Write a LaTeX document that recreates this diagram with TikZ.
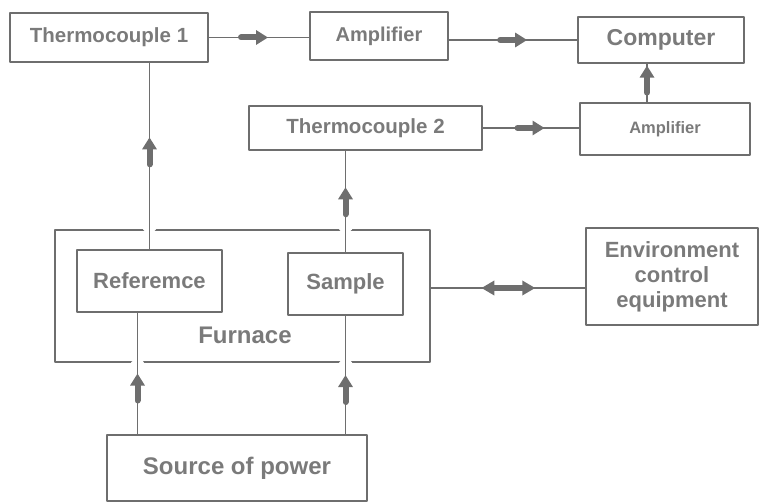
\documentclass[tikz,border=0pt]{standalone}
\usepackage{fontspec}
\setmainfont{Liberation Sans}
\usetikzlibrary{arrows.meta,calc,positioning,decorations.markings}

\definecolor{inkgray}{HTML}{6E6E6E}
\definecolor{txtgray}{HTML}{7A7A7A}

\tikzset{
  box/.style={draw=inkgray, line width=1.3pt, inner sep=0pt, align=center,
              text=txtgray, font=\bfseries\fontsize{22}{25}\selectfont},
  link/.style={draw=inkgray, line width=1.2pt},
  flow/.style={link, postaction={decorate},
    decoration={markings, mark=at position #1 with
      {\draw[inkgray, line width=6pt, -{Triangle[length=12pt,width=14pt]}] (-27,0) -- (0,0);}}},
  flow/.default=0.5,
  flowboth/.style={link, postaction={decorate},
    decoration={markings, mark=at position #1 with
      {\draw[inkgray, line width=6pt, {Triangle[length=13pt,width=14pt]}-{Triangle[length=13pt,width=14pt]}] (-27,0) -- (27,0);}}},
}

\begin{document}
\begin{tikzpicture}[x=1pt, y=-1pt, line cap=round, line join=round]

\useasboundingbox (0,0) rectangle (762,502);

% ---------------------------------------------------------
% Signal chain (top rows)
% ---------------------------------------------------------
\node[box, minimum width=198, minimum height=49,
      font=\bfseries\fontsize{20.5}{24}\selectfont] (tc1) at (109,37.5) {Thermocouple 1};
\node[box, minimum width=138, minimum height=48,
      font=\bfseries\fontsize{20}{24}\selectfont] (amp1) at (379,36) {Amplifier};
\node[box, minimum width=166, minimum height=46,
      font=\bfseries\fontsize{23}{26}\selectfont] (pc) at (661,40) {Computer};
\node[box, minimum width=233, minimum height=44,
      font=\bfseries\fontsize{20.5}{24}\selectfont] (tc2) at (365.5,128) {Thermocouple 2};
\node[box, minimum width=170, minimum height=52,
      font=\bfseries\fontsize{16.5}{20}\selectfont] (amp2) at (665,129) {Amplifier};

% ---------------------------------------------------------
% Furnace with reference and sample
% ---------------------------------------------------------
\node[box, minimum width=375, minimum height=132] (furnace) at (242.5,296) {};
\node[box, draw=none, font=\bfseries\fontsize{24}{28}\selectfont] (furnacetxt) at (245,335) {Furnace};
\node[box, minimum width=145, minimum height=62] (ref) at (149.5,281) {Referemce};
\node[box, minimum width=115, minimum height=62] (sample) at (345.5,284) {Sample};

% ---------------------------------------------------------
% Environment and power
% ---------------------------------------------------------
\node[box, minimum width=172, minimum height=97] (env) at (672,276.5)
     {Environment\\control\\equipment};
\node[box, minimum width=260, minimum height=66,
      font=\bfseries\fontsize{24}{28}\selectfont] (src) at (237,468) {Source of power};

\coordinate (refin) at ([xshift=-12]ref.south);
\coordinate (pcin)  at ([xshift=-18]amp2.north);
\coordinate (envin) at (586,288);

% breaks in the furnace wall where the leads pass
\foreach \p in {ref.north |- furnace.north, sample.north |- furnace.north,
                refin |- furnace.south, sample.south |- furnace.south}
  \draw[white, line width=3pt] ($(\p)+(-5,0)$) -- ($(\p)+(5,0)$);

% ---------------------------------------------------------
% Connectors
% ---------------------------------------------------------
\draw[flow=0.59] (tc1.east) -- (tc1.east -| amp1.west);
\draw[flow=0.61] (amp1.east |- pc.west) -- (pc.west);
\draw[flow=0.64] (tc2.east) -- (tc2.east -| amp2.west);
\draw[flow=0.95] (pcin) -- (pcin |- pc.south);

\draw[flow=0.6]  (ref.north) -- (ref.north |- tc1.south);
\draw[flow=0.64] (sample.north) -- (sample.north |- tc2.south);
\draw[flow=0.5]  (refin |- src.north) -- (refin);
\draw[flow=0.5]  (sample.south |- src.north) -- (sample.south);

\draw[flowboth=0.5] (furnace.east |- envin) -- (envin);

\end{tikzpicture}
\end{document}
